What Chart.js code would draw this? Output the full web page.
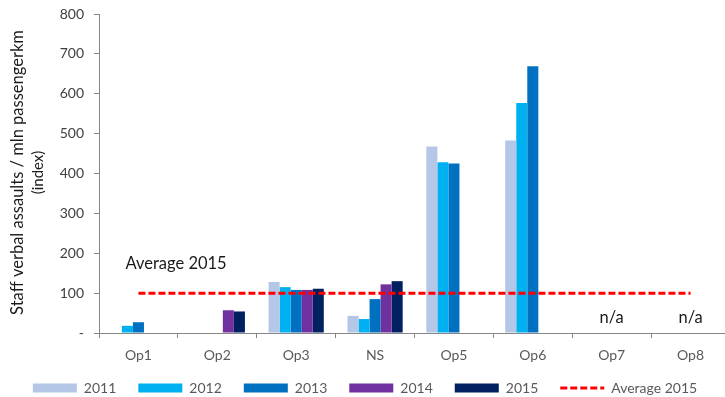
<!DOCTYPE html>
<html>
<head>
<meta charset="utf-8">
<script src="https://cdn.jsdelivr.net/npm/chart.js@4/dist/chart.umd.min.js"></script>
<style>
  html, body { margin: 0; padding: 0; background: #fff; overflow: hidden; }
  #wrap { width: 725px; height: 397px; overflow: hidden; }
  canvas { display: block; }
</style>
</head>
<body>
<div id="wrap"><canvas id="chart" width="730" height="397"></canvas></div>
<script>
// Operators on the horizontal axis
const categories = ['Op1', 'Op2', 'Op3', 'NS', 'Op5', 'Op6', 'Op7', 'Op8'];

// Index of staff verbal assaults per million passenger-km, by year
const values2011 = [null, null, 128, 43, 468, 483, null, null];
const values2012 = [18, null, 115, 35, 428, 577, null, null];
const values2013 = [27, null, 108, 85, 425, 669, null, null];
const values2014 = [null, 57, 108, 122, null, null, null, null];
const values2015 = [null, 54, 111, 130, null, null, null, null];

// 2015 average reference level
const average2015 = [100, 100, 100, 100, 100, 100, 100, 100];

// Categories without data
const notAvailable = ['Op7', 'Op8'];

const yTicks = [0, 100, 200, 300, 400, 500, 600, 700, 800];
const yTitle = ['Staff verbal assaults / mln passengerkm', '(index)'];

const FONT = 'Lato, "Liberation Sans", sans-serif';

const seriesColors = ['#B4C7E7', '#00B0F0', '#0070C0', '#7030A0', '#002060'];
const seriesLabels = ['2011', '2012', '2013', '2014', '2015'];
const seriesValues = [values2011, values2012, values2013, values2014, values2015];

const barSets = seriesValues.map((vals, i) => ({
  type: 'bar',
  label: seriesLabels[i],
  data: vals,
  backgroundColor: seriesColors[i],
  borderWidth: 0,
  categoryPercentage: 0.7,
  barPercentage: 1.0,
  order: 1
}));

const lineSet = {
  type: 'line',
  label: 'Average 2015',
  data: average2015,
  borderColor: '#FF0000',
  backgroundColor: '#FF0000',
  borderWidth: 3,
  borderDash: [7, 3],
  pointRadius: 0,
  fill: false,
  order: 0
};

// Fixed-height legend band, with its top nudged up under the axis labels
const legendBand = {
  id: 'legendBand',
  beforeInit(chart) {
    const lg = chart.legend;
    if (!lg) return;
    const fit = lg.fit.bind(lg);
    lg.fit = function () {
      fit();
      this.height = 33;
    };
  },
  afterLayout(chart) {
    const lg = chart.legend;
    if (!lg) return;
    lg.top -= 5;
    lg.height += 5;
  }
};

// Axis title and text annotations placed through the chart scales
const annotations = {
  id: 'annotations',
  afterDatasetsDraw(chart) {
    const { ctx, scales: { x, y } } = chart;
    ctx.save();
    // rotated y-axis title, each line centred on the plot height
    ctx.fillStyle = '#1a1a1a';
    ctx.textAlign = 'center';
    ctx.textBaseline = 'middle';
    const midY = (y.top + y.bottom) / 2 - 1;
    const titleSizes = [16.5, 15];
    yTitle.forEach((line, i) => {
      ctx.save();
      ctx.font = titleSizes[i] + 'px ' + FONT;
      ctx.translate(18 + i * 20, midY);
      ctx.rotate(-Math.PI / 2);
      ctx.fillText(line, 0, 0);
      ctx.restore();
    });

    ctx.font = '16.5px ' + FONT;
    ctx.textAlign = 'left';
    ctx.fillText('Average 2015', x.getPixelForValue(0) - 13, y.getPixelForValue(173));
    ctx.textAlign = 'center';
    notAvailable.forEach(c => {
      ctx.fillText('n/a', x.getPixelForValue(categories.indexOf(c)), y.getPixelForValue(38));
    });
    ctx.restore();
  }
};

new Chart(document.getElementById('chart'), {
  data: {
    labels: categories,
    datasets: [...barSets, lineSet]
  },
  options: {
    responsive: false,
    animation: false,
    devicePixelRatio: 1,
    layout: { padding: { top: 14, left: 0, right: 0, bottom: 0 } },
    plugins: {
      tooltip: { enabled: false },
      legend: {
        position: 'bottom',
        labels: {
          usePointStyle: true,
          pointStyleWidth: 44,
          boxHeight: 9,
          padding: 22,
          color: '#595959',
          font: { family: FONT, size: 14 },
          sort: (a, b) => a.datasetIndex - b.datasetIndex,
          generateLabels(chart) {
            const items = Chart.defaults.plugins.legend.labels.generateLabels(chart);
            items.forEach(it => {
              const ds = chart.data.datasets[it.datasetIndex];
              if (ds.type === 'line') {
                it.pointStyle = 'line';
                it.lineWidth = 3;
                it.lineDash = [7, 3];
                it.strokeStyle = '#FF0000';
              } else {
                it.pointStyle = 'rect';
                it.lineWidth = 0;
                it.strokeStyle = ds.backgroundColor;
              }
            });
            return items;
          }
        }
      }
    },
    scales: {
      x: {
        afterFit(scale) { scale.height = 31; },
        grid: {
          display: true,
          drawOnChartArea: false,
          drawTicks: true,
          tickLength: 5,
          color: '#868686'
        },
        border: { color: '#868686' },
        ticks: {
          color: '#595959',
          font: { family: FONT, size: 14 },
          padding: 9
        }
      },
      y: {
        min: 0,
        max: 800,
        afterBuildTicks(scale) {
          scale.ticks = yTicks.map(v => ({ value: v }));
        },
        afterFit(scale) {
          scale.width = 99;
          scale.paddingTop = 0;
          scale.paddingBottom = 0;
        },
        grid: {
          display: true,
          drawOnChartArea: false,
          drawTicks: true,
          tickLength: 5,
          color: '#868686'
        },
        border: { color: '#868686' },
        ticks: {
          color: '#404040',
          font: { family: FONT, size: 14 },
          padding: 10,
          callback: v => (v === 0 ? '-' : String(v))
        }
      }
    }
  },
  plugins: [legendBand, annotations]
});
</script>
</body>
</html>
